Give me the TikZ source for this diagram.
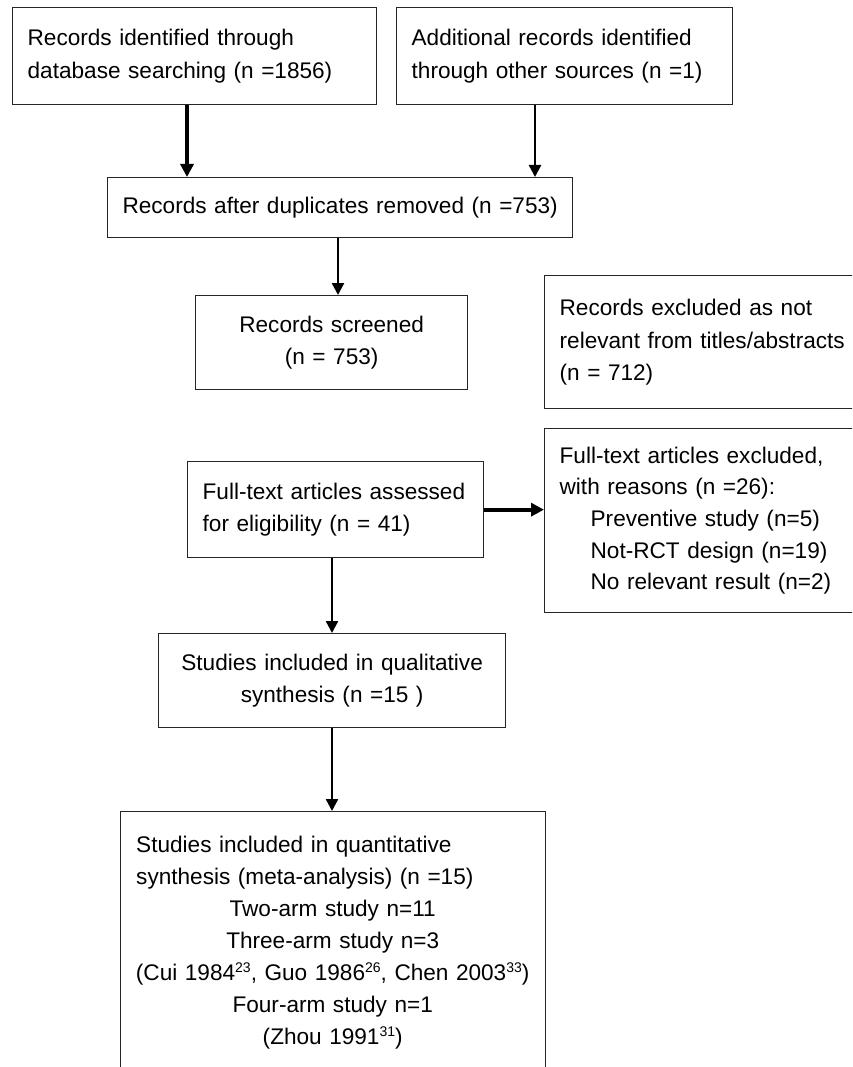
\documentclass[tikz,border=0pt]{standalone}
\usepackage{fontspec}
\setmainfont{Liberation Sans}
\usetikzlibrary{arrows.meta}
\newcommand{\refsup}[1]{\raisebox{8.5pt}{\fontsize{14}{14}\selectfont #1}}

\begin{document}
\begin{tikzpicture}[x=1pt,y=-1pt,
	box/.style={draw=black!85, line width=1.3pt, anchor=north west, inner xsep=15pt, inner ysep=0pt, font=\fontsize{22.6}{32.2}\selectfont},
	thickarrow/.style={line width=3.8pt, -{Triangle[width=13pt,length=13pt]}},
	thinarrow/.style={line width=2.4pt, -{Triangle[width=12pt,length=12pt]}}]
	\useasboundingbox (0,0) rectangle (852,1067);
	\clip (0,0) rectangle (852,1067);
	\node[box, text width=334, minimum height=97, align=left] (db) at (12,7) {Records identified through\\database searching (n =1856)};
	\node[box, text width=306, minimum height=97, align=left] (other) at (396,7) {Additional records identified\\through other sources (n =1)};
	\node[box, inner xsep=4pt, text width=457, minimum height=60, align=center] (dup) at (107,177) {Records after duplicates removed (n =753)};
	\node[box, text width=242, minimum height=94, align=center] (screen) at (195,295) {Records screened\\(n = 753)};
	\node[box, text width=300, minimum height=133, align=left] (titleexcl) at (544,275) {Records excluded as not\\relevant from titles/abstracts\\(n = 712)};
	\node[box, text width=266, minimum height=96, align=left] (assess) at (187,461) {Full-text articles assessed\\for eligibility (n = 41)};
	\node[box, text width=300, minimum height=184, align=left, font=\fontsize{22.6}{31.7}\selectfont] (fulltextexcl) at (544,428) {Full-text articles excluded,\\with reasons (n =26):\\\hspace*{31pt}Preventive study (n=5)\\\hspace*{31pt}Not-RCT design (n=19)\\\hspace*{31pt}No relevant result (n=2)};
	\node[box, text width=317, minimum height=94, align=center] (qual) at (158,633) {Studies included in qualitative\\synthesis (n =15 )};
	\node[box, minimum width=425, minimum height=300] (quant) at (120,811) {};
	\node[anchor=north west, text width=393, inner sep=0pt, align=left, font=\fontsize{22.6}{32}\selectfont] (quanttext) at (136,836) {Studies included in quantitative\\synthesis (meta-analysis) (n =15)\par
		{\centering Two-arm study n=11\\Three-arm study n=3\\\makebox[\linewidth]{(Cui 1984\refsup{23}, Guo 1986\refsup{26}, Chen 2003\refsup{33})}\\Four-arm study n=1\\(Zhou 1991\refsup{31})\par}};
	\draw[thickarrow] (db.south -| 187,0) -- (dup.north -| 187,0);
	\draw[thinarrow] (other.south -| 535,0) -- (dup.north -| 535,0);
	\draw[thinarrow] (dup.south -| 338,0) -- (screen.north -| 338,0);
	\draw[thickarrow] (assess.east) -- (assess.east -| fulltextexcl.west);
	\draw[thinarrow] (assess.south -| 332,0) -- (qual.north -| 332,0);
	\draw[thinarrow] (qual.south -| 332,0) -- (quant.north -| 332,0);
\end{tikzpicture}
\end{document}
